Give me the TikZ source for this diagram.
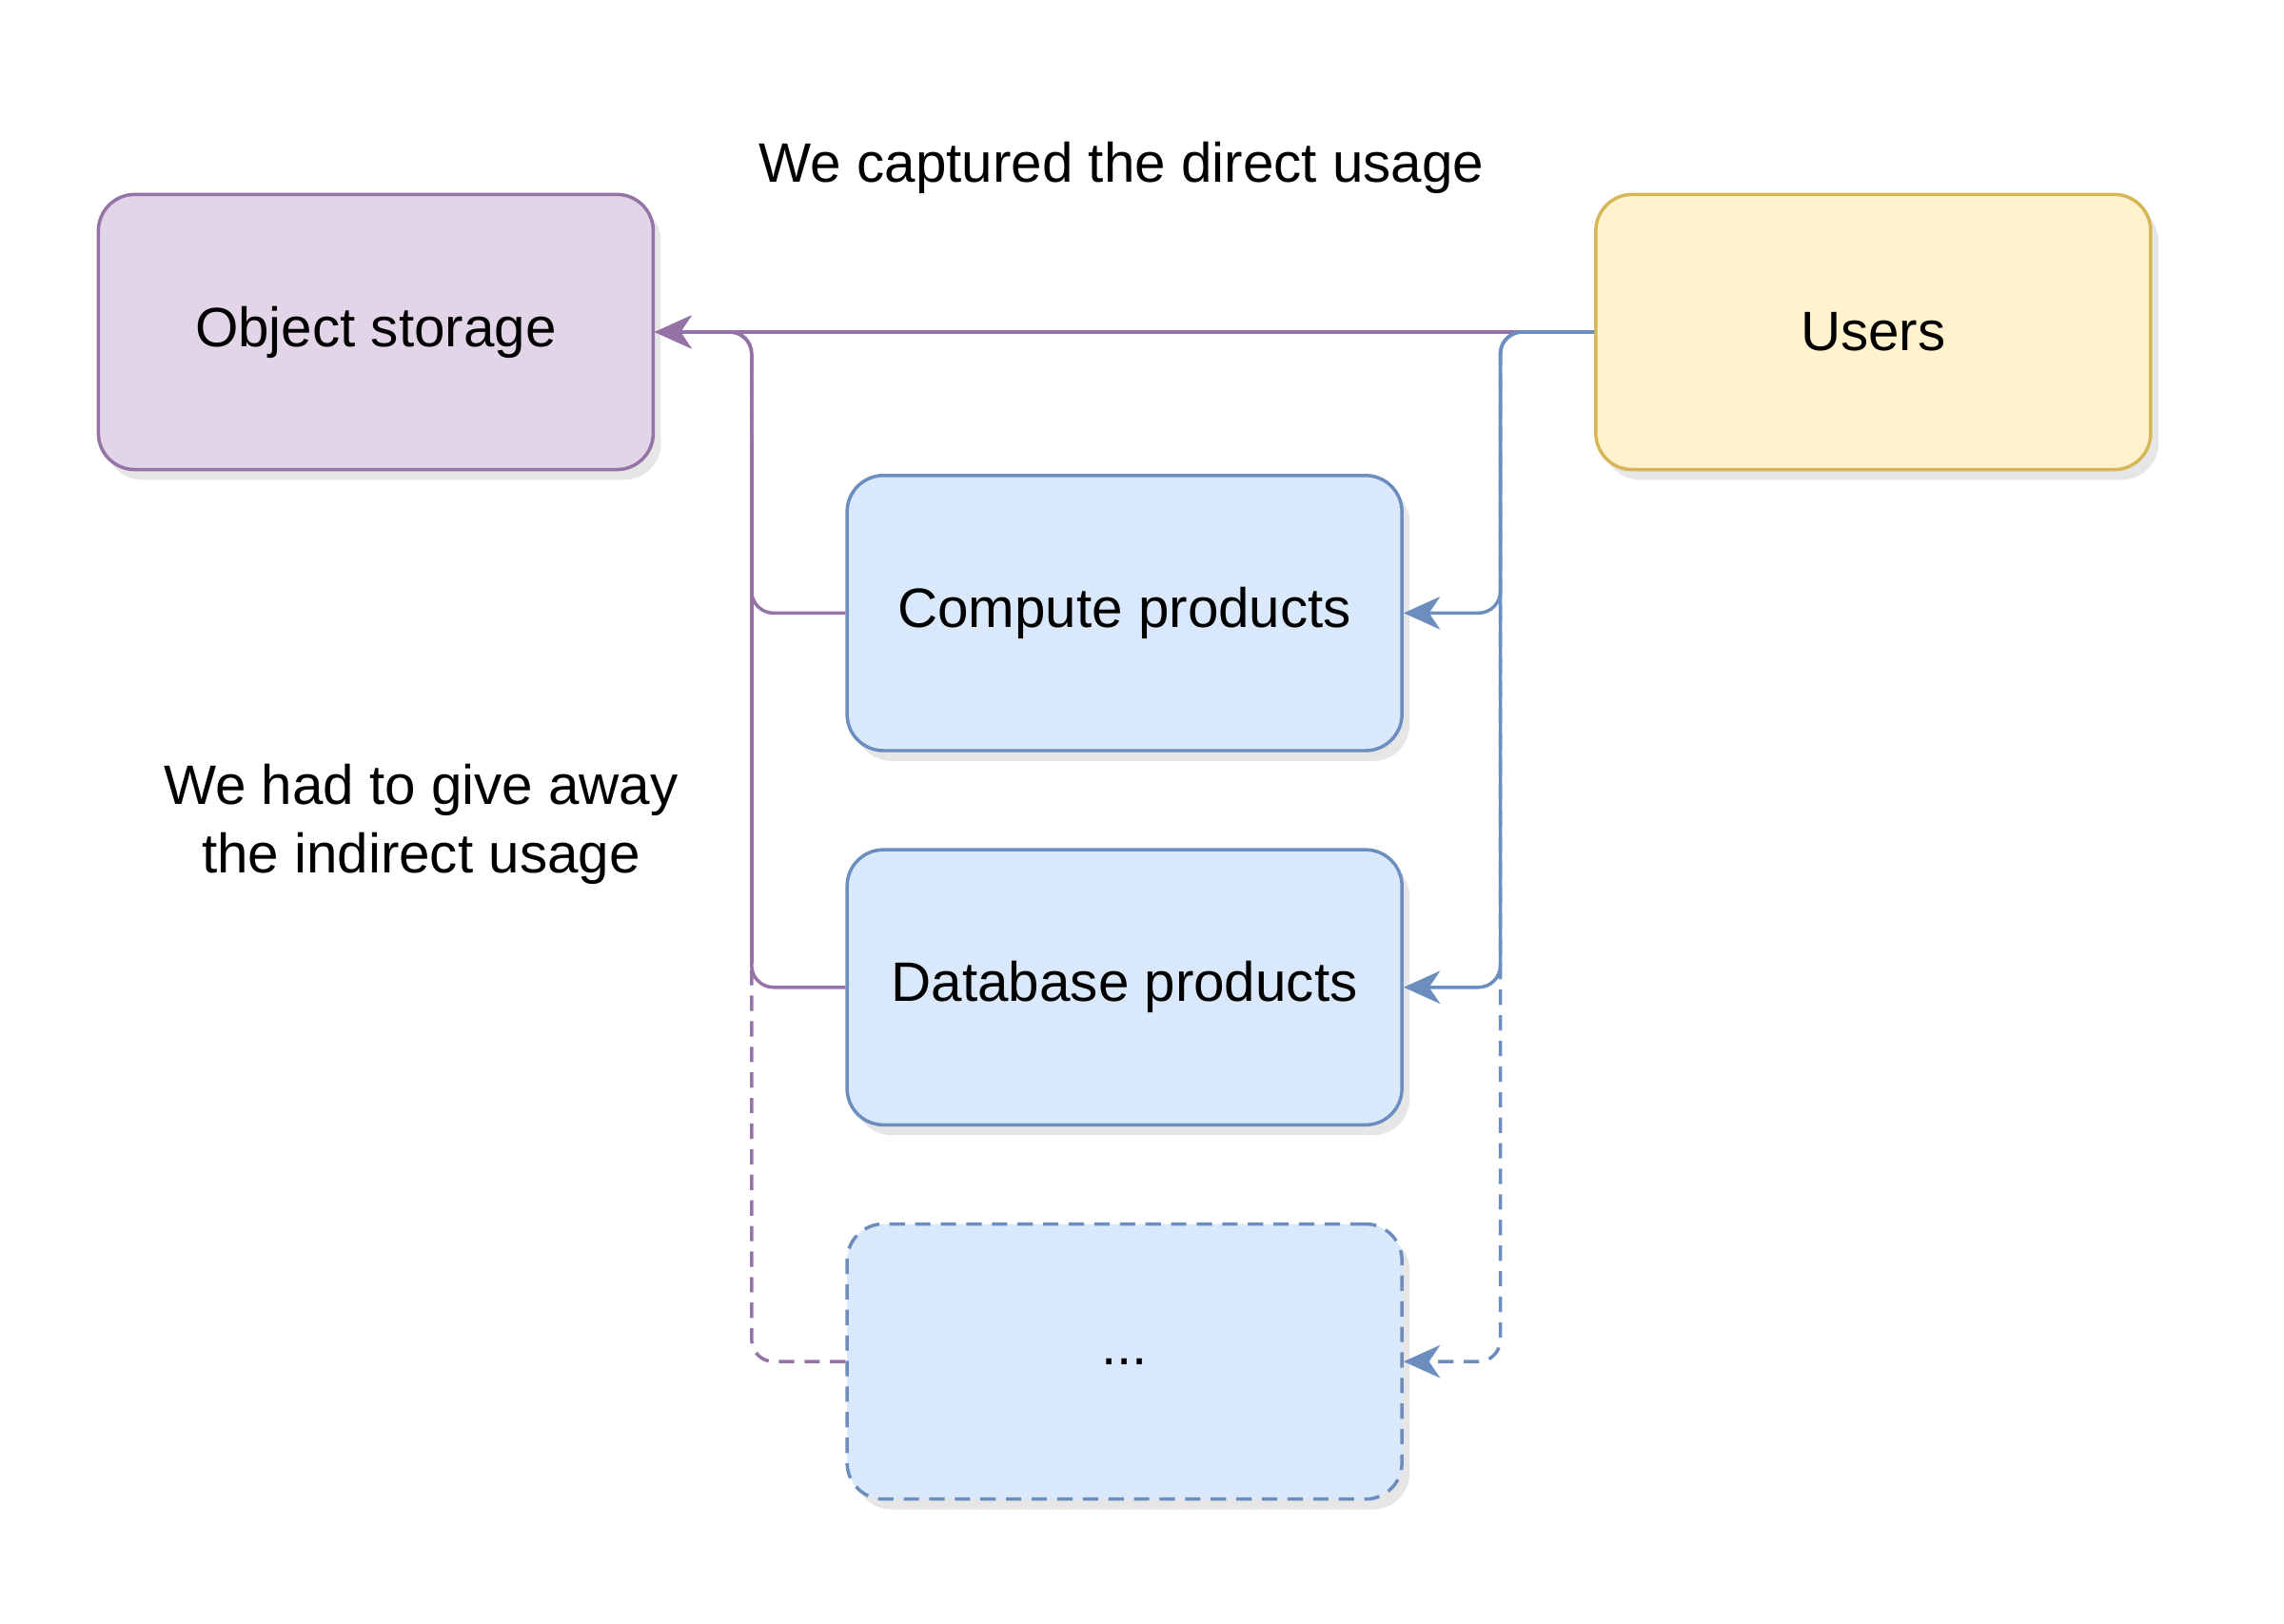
\documentclass[tikz,border=0pt]{standalone}
\usepackage{fontspec}
\setmainfont{Liberation Sans}
\usetikzlibrary{shadows,arrows.meta}
\definecolor{pf}{HTML}{E1D5E7}\definecolor{ps}{HTML}{9673A6}
\definecolor{yf}{HTML}{FFF2CC}\definecolor{ys}{HTML}{D6B656}
\definecolor{bf}{HTML}{DAE8FC}\definecolor{bs}{HTML}{6C8EBF}
\begin{document}
\begin{tikzpicture}[x=0.02cm,y=-0.02cm,
  box/.style={draw,line width=1.3pt,rounded corners=0.5cm,minimum width=7.62cm,minimum height=3.78cm,
    font=\fontsize{21.7}{26}\selectfont,drop shadow={shadow xshift=3pt,shadow yshift=-4pt,opacity=0.2,fill=gray}},
  dsh/.style={dash pattern=on 6pt off 4pt},
  conn/.style={line width=1.3pt,rounded corners=0.3cm,-{Stealth[length=0.5cm,width=0.45cm,inset=0.15cm]}},
  lbl/.style={font=\fontsize{21.7}{27}\selectfont,align=center}]
\useasboundingbox (0,0) rectangle (1568,1114.6);
\node[box,fill=pf,draw=ps] (os) at (258,228) {Object storage};
\node[box,fill=yf,draw=ys] (us) at (1286,228) {Users};
\node[box,fill=bf,draw=bs] (cp) at (772,421) {Compute products};
\node[box,fill=bf,draw=bs] (db) at (772,678) {Database products};
\node[box,fill=bf,draw=bs,dsh] (dd) at (772,935) {...};
\node[lbl] (t1) at (770,115) {We captured the direct usage};
\node[lbl] (t2) at (289,566) {We had to give away\\the indirect usage};
\draw[conn,ps] (us.west) -- (os.east);
\draw[conn,bs] (us.west) -- (1030,228) -- (1030,421) -- (cp.east);
\draw[conn,bs] (us.west) -- (1030,228) -- (1030,678) -- (db.east);
\draw[conn,bs,dsh] (us.west) -- (1030,228) -- (1030,935) -- (dd.east);
\draw[conn,ps] (cp.west) -- (516,421) -- (516,228) -- (os.east);
\draw[conn,ps] (db.west) -- (516,678) -- (516,228) -- (os.east);
\draw[conn,ps,dsh] (dd.west) -- (516,935) -- (516,228) -- (os.east);
\draw[line width=1.3pt,bs] (1030,300) -- (1030,662);
\draw[line width=1.3pt,ps] (516,300) -- (516,662);
\end{tikzpicture}
\end{document}
